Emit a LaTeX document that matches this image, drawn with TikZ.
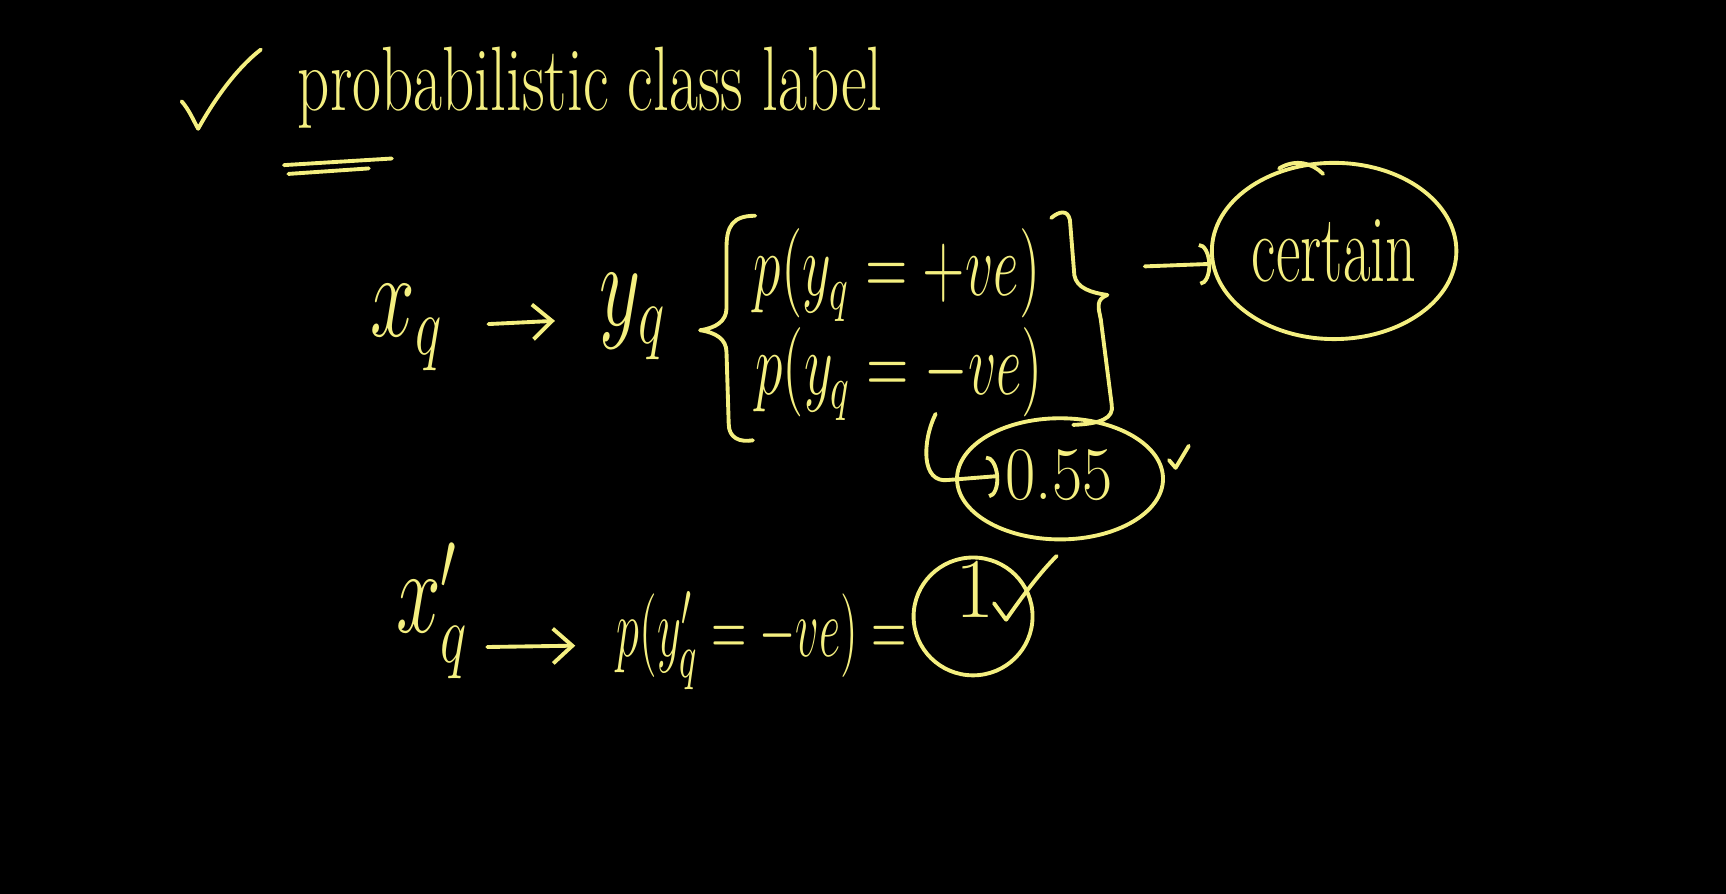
\documentclass[tikz,border=0pt]{standalone}
\usepackage{graphicx}
\usetikzlibrary{arrows.meta,shapes.geometric}
\definecolor{chalk}{RGB}{244,239,128}
\newcommand{\hwtall}[2]{\scalebox{1}[#1]{#2}}
\begin{document}
\begin{tikzpicture}[x=0.01cm,y=-0.01cm,
  hand/.style={draw=chalk,line width=1pt,line cap=round,line join=round},
  txt/.style={text=chalk,inner sep=0pt},
  barb/.style={-{Straight Barb[length=5pt,width=9pt]}},
  arcbarb/.style={-{Arc Barb[length=3pt,width=11pt]}},
  ring/.style={ellipse,draw=chalk,line width=1pt,inner sep=0pt,text=chalk}
]
\fill[black] (0,0) rectangle (1568,812);
\useasboundingbox (0,0) rectangle (1568,812);

% check mark and title
\draw[hand] (165,92) .. controls (172,100) and (176,110) .. (180,117) .. controls (195,90) and (215,62) .. (237,45);
\node[txt, anchor=base west] (title) at (270,100) {\fontsize{16.3}{19}\selectfont\hwtall{1.45}{probabilistic class label}};
\draw[hand] (258,150) -- (356,144);
\draw[hand] (262,158) -- (335,153);

% first row
\node[txt] (xq) at (370,298) {\fontsize{22}{26}\selectfont\hwtall{1.5}{$x_q$}};
\node[txt] (yq) at (575,288) {\fontsize{20}{24}\selectfont\hwtall{1.5}{$y_q$}};
\draw[hand,barb,shorten <=0.4cm,shorten >=0.4cm] (xq) -- (yq);

\node[txt] (ppos) at (815,250) {\fontsize{14.5}{17}\selectfont\hwtall{1.6}{$p(y_q = +ve)$}};
\node[txt] (pneg) at (817,340) {\fontsize{14.5}{17}\selectfont\hwtall{1.6}{$p(y_q = -ve)$}};

% left brace
\draw[hand] (686,196) .. controls (666,196) and (660,205) .. (660,225) -- (660,280)
  .. controls (660,292) and (650,298) .. (636,300)
  .. controls (650,302) and (660,308) .. (660,320) -- (662,385)
  .. controls (662,398) and (672,402) .. (684,400);

% right brace
\draw[hand] (955,198) .. controls (962,192) and (970,190) .. (972,200) -- (976,250)
  .. controls (978,262) and (992,266) .. (1006,268)
  .. controls (995,272) and (998,280) .. (1000,290) -- (1010,368)
  .. controls (1012,380) and (1000,385) .. (975,386);

% certain
\node[ring, minimum width=2.22cm, minimum height=1.6cm] (cert) at (1212,228) {\fontsize{15.5}{18}\selectfont\hwtall{1.6}{certain}};
\draw[hand] (1162,153) .. controls (1177,144) and (1192,148) .. (1202,158);
\coordinate (carrow) at (1040,242);
\draw[hand,arcbarb] (carrow) -- (cert.186);

% 0.55
\node[ring, minimum width=1.87cm, minimum height=1.1cm] (e055) at (963,435) {};
\node[txt] (v055) at (962,432) {\fontsize{17}{20}\selectfont\hwtall{1.15}{0.55}};
\coordinate (hk) at (850,376);
\draw[hand,arcbarb,shorten >=0.05cm] (hk) .. controls (838,400) and (836,440) .. (862,436) -- (v055.west);
\draw[hand] (1062,418) -- (1068,425) -- (1080,405);

% second row
\node[txt] (xqp) at (393,555) {\fontsize{22}{26}\selectfont\hwtall{1.5}{$x'_q$}};
\node[txt] (pp) at (692,582) {\fontsize{12.5}{15}\selectfont\hwtall{1.8}{$p(y'_q = -ve) =$}};
\draw[hand,barb,shorten <=0.16cm,shorten >=0.37cm] ([yshift=-0.33cm]xqp.east) -- ([yshift=-0.04cm]pp.west);

\node[ring, minimum width=1.08cm, minimum height=1.07cm] (c1) at (884,560) {};
\node[txt] (one) at (886,535) {\fontsize{22}{26}\selectfont 1};
\draw[hand] (903,548) -- (914,563) .. controls (930,540) and (945,520) .. (960,505);
\end{tikzpicture}
\end{document}
